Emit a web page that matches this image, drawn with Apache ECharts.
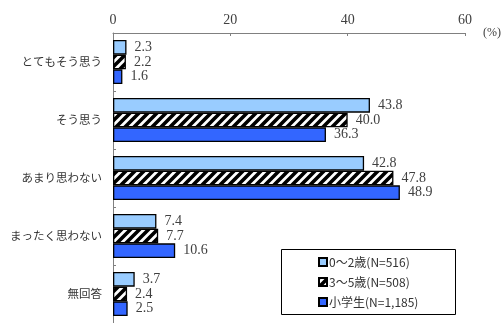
<!DOCTYPE html>
<html><head><meta charset="utf-8">
<script src="https://cdn.jsdelivr.net/npm/echarts@6/dist/echarts.min.js"></script>
<style>html,body{margin:0;padding:0;background:#fff}#c{width:501px;height:323px}</style>
</head><body><div id="c"></div>
<script>
const categories = ['とてもそう思う','そう思う','あまり思わない','まったく思わない','無回答'];
const seriesNames = ['0～2歳(N=516)','3～5歳(N=508)','小学生(N=1,185)'];
const age0to2 = [2.3, 43.8, 42.8, 7.4, 3.7];
const age3to5 = [2.2, 40.0, 47.8, 7.7, 2.4];
const elementary = [1.6, 36.3, 48.9, 10.6, 2.5];
const xTicks = [0, 20, 40, 60];

function hatch(){
  const s = 9, c = document.createElement('canvas');
  c.width = s; c.height = s;
  const g = c.getContext('2d');
  g.fillStyle = '#fff'; g.fillRect(0,0,s,s);
  g.strokeStyle = '#000'; g.lineWidth = 3.6; g.lineCap = 'square';
  g.beginPath();
  g.moveTo(-s, s); g.lineTo(s, -s);
  g.moveTo(0, s); g.lineTo(s, 0);
  g.moveTo(0, 2*s); g.lineTo(2*s, 0);
  g.stroke();
  return c;
}

const chart = echarts.init(document.getElementById('c'));
const serif = '"Liberation Serif", "Times New Roman", serif';
const sans = '"Noto Sans CJK JP", "Noto Sans", sans-serif';
const colors = ['#99CCFF', {image: hatch(), repeat: 'repeat'}, '#3366FF'];
const dataSets = [age0to2, age3to5, elementary];

chart.setOption({
  animation: false,
  grid: {left: 113, right: 36, top: 33, height: 294, containLabel: false},
  xAxis: {
    type: 'value', position: 'top', min: xTicks[0], max: xTicks[xTicks.length-1], interval: 20,
    axisLine: {show: true, lineStyle: {color: '#808080', width: 1}},
    axisTick: {show: true, inside: true, length: 3, lineStyle: {color: '#808080'}},
    axisLabel: {fontFamily: serif, fontSize: 14, color: '#404040', margin: 6},
    splitLine: {show: false}
  },
  yAxis: {
    type: 'category', data: categories, inverse: true,
    axisLine: {show: true, lineStyle: {color: '#808080', width: 1}},
    axisTick: {show: true, inside: true, length: 3, lineStyle: {color: '#808080'}},
    axisLabel: {fontFamily: sans, fontSize: 11.5, color: '#333', margin: 11}
  },
  legend: {
    orient: 'vertical', left: 318, top: 256, padding: 0, itemWidth: 8, itemHeight: 8, itemGap: 8,
    icon: 'rect',
    textStyle: {fontFamily: sans, fontSize: 12, color: '#333', padding: [0,0,0,-3]},
    data: seriesNames
  },
  graphic: [
    {type: 'rect', shape: {x: 281.5, y: 249.5, width: 174, height: 65}, style: {fill: 'none', stroke: '#000', lineWidth: 1}, z: 100},
    {type: 'text', left: 483, top: 27, style: {text: '(%)', font: '12px ' + serif, fill: '#404040'}}
  ],
  series: dataSets.map((d, i) => ({
    name: seriesNames[i], type: 'bar', data: d,
    barWidth: 14.7, barGap: '0%',
    itemStyle: {color: colors[i], borderColor: '#000', borderWidth: 1.3},
    label: {show: true, position: 'right', distance: 8, fontFamily: serif, fontSize: 14, color: '#404040',
      formatter: p => p.value.toFixed(1)}
  }))
});
</script></body></html>
